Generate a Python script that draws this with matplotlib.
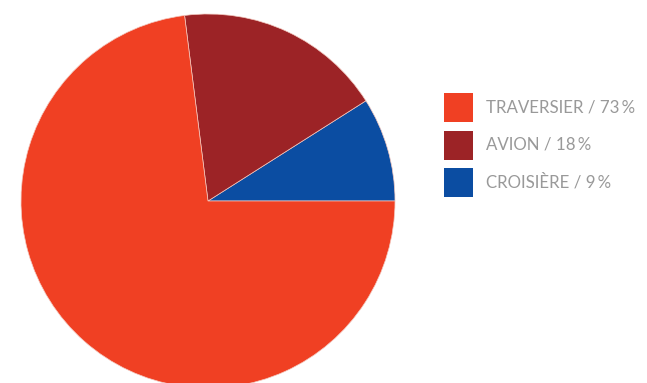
import matplotlib.pyplot as plt
from matplotlib.patches import Rectangle

# slice data (counterclockwise from 3 o'clock)
labels = ['CROISIÈRE', 'AVION', 'TRAVERSIER']
values = [9, 18, 73]
colors = ['#0B4DA2', '#9C2326', '#F04023']

plt.rcParams['font.family'] = ['Lato', 'DejaVu Sans']

fig = plt.figure(figsize=(6.47, 3.83), dpi=100)
ax = fig.add_axes([0, 0, 1, 1])

wedges, _ = ax.pie(values, colors=colors, startangle=0, counterclock=True,
                   center=(208, 182), radius=187, frame=True,
                   wedgeprops=dict(linewidth=0.5, edgecolor='#f3c8bf'))
ax.set_xlim(0, 647)
ax.set_ylim(0, 383)
ax.set_aspect('equal')
ax.axis('off')

# legend drawn by hand, top to bottom: traversier, avion, croisiere
row_y = 275.5  # centre of first row (axes units = pixels)
for lab, val, col in zip(labels[::-1], values[::-1], colors[::-1]):
    ax.add_patch(Rectangle((444, row_y - 14.5), 29, 29, color=col, lw=0))
    ax.text(486, row_y, f'{lab} / {val}\u2009%', fontsize=12.2,
            color='#999999', va='center', ha='left')
    row_y -= 37.5

fig.savefig('out.png', dpi=100)
